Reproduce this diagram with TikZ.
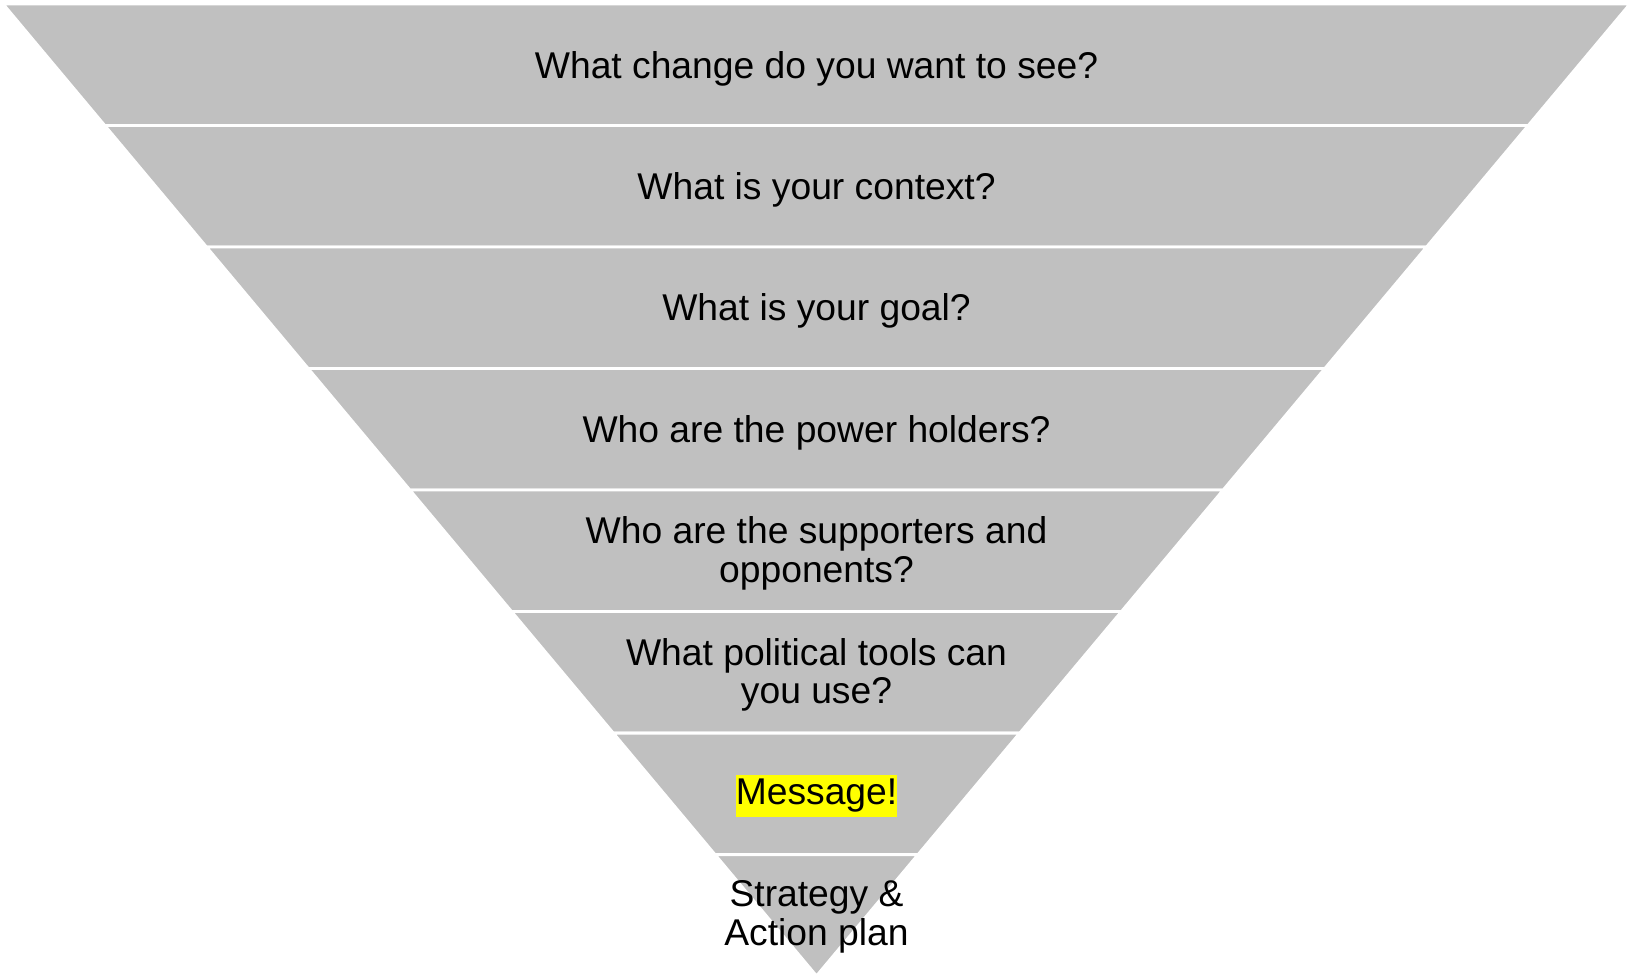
\documentclass[tikz,border=0pt]{standalone}
\usepackage{fontspec}
\setmainfont{Liberation Sans}
\usetikzlibrary{calc}
\definecolor{bandgray}{HTML}{C0C0C0}
\definecolor{marker}{HTML}{FFFF00}

\begin{document}
\begin{tikzpicture}[x=0.02cm, y=-0.02cm,
  band/.style={fill=bandgray, draw=white, line width=1.7pt},
  question/.style={align=center, inner sep=0pt, font=\fontsize{21.2}{21.9}\selectfont}]

\useasboundingbox (0,0) rectangle (1631,976);

% corners of the funnel
\coordinate (topleft) at (3,4);
\coordinate (topright) at (1630,4);
\coordinate (tip) at (816.5,976);

% plot the bands, top to bottom
\foreach \i in {0,...,6}{
  \pgfmathtruncatemacro{\j}{\i+1}
  \draw[band] ($(topleft)!\i/8!(tip)$) -- ($(topright)!\i/8!(tip)$)
    -- ($(topright)!\j/8!(tip)$) -- ($(topleft)!\j/8!(tip)$) -- cycle;
}
\draw[band] ($(topleft)!7/8!(tip)$) -- ($(topright)!7/8!(tip)$) -- (tip) -- cycle;


% plot the questions
\node[question] (change) at (816.5,69) {What change do you want to see?};
\node[question] (context) at (816.5,190.2) {What is your context?};
\node[question] (goal) at (816.5,311.3) {What is your goal?};
\node[question] (power) at (816.5,432.4) {Who are the power holders?};
\node[question] (supporters) at (816.5,553.6) {Who are the supporters and\\opponents?};
\node[question] (tools) at (816.5,674.7) {What political tools can\\you use?};

%highlighted message
\node[question, fill=marker, inner ysep=2.6pt] (message) at (816.5,796) {Message!};

\node[question] (plan) at (816.5,917) {Strategy \&\\Action plan};

\end{tikzpicture}
\end{document}
